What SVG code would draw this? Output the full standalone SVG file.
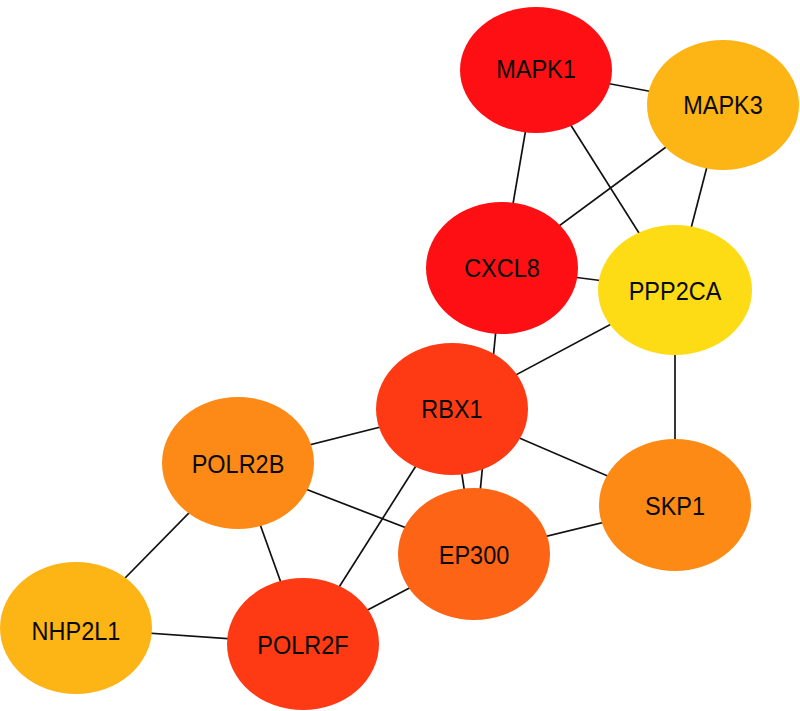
<svg xmlns="http://www.w3.org/2000/svg" width="800" height="711" viewBox="0 0 800 711">
<style>
.e{stroke:#111;stroke-width:1.7;fill:none}
.n text{font-family:"Liberation Sans",Arial,sans-serif;font-size:23.5px;fill:#0a0a0a;text-anchor:middle;dominant-baseline:central}
</style>
<rect width="800" height="711" fill="#fff"/>
<g id="edges">
<line class="e" x1="536" y1="70" x2="723" y2="105"/>
<line class="e" x1="536" y1="70" x2="502" y2="268"/>
<line class="e" x1="536" y1="70" x2="675" y2="290"/>
<line class="e" x1="723" y1="105" x2="502" y2="268"/>
<line class="e" x1="723" y1="105" x2="675" y2="290"/>
<line class="e" x1="502" y1="268" x2="675" y2="290"/>
<line class="e" x1="502" y1="268" x2="474" y2="554"/>
<line class="e" x1="675" y1="290" x2="452" y2="409"/>
<line class="e" x1="675" y1="290" x2="675" y2="505"/>
<line class="e" x1="452" y1="409" x2="238" y2="463"/>
<line class="e" x1="452" y1="409" x2="675" y2="505"/>
<line class="e" x1="452" y1="409" x2="474" y2="554"/>
<line class="e" x1="452" y1="409" x2="303" y2="644"/>
<line class="e" x1="238" y1="463" x2="474" y2="554"/>
<line class="e" x1="238" y1="463" x2="303" y2="644"/>
<line class="e" x1="238" y1="463" x2="76" y2="628"/>
<line class="e" x1="76" y1="628" x2="303" y2="644"/>
<line class="e" x1="474" y1="554" x2="303" y2="644"/>
<line class="e" x1="474" y1="554" x2="675" y2="505"/>
</g>
<g id="MAPK1" class="n"><ellipse cx="536" cy="70" rx="76" ry="63" fill="#FE0F14"/><text transform="translate(536 69) scale(1 1.12)">MAPK1</text></g>
<g id="MAPK3" class="n"><ellipse cx="723" cy="105" rx="76" ry="65" fill="#FDB415"/><text transform="translate(723 105) scale(1 1.12)">MAPK3</text></g>
<g id="CXCL8" class="n"><ellipse cx="502" cy="268" rx="76" ry="66" fill="#FE0F14"/><text transform="translate(502 268) scale(1 1.12)">CXCL8</text></g>
<g id="PPP2CA" class="n"><ellipse cx="675" cy="290" rx="77" ry="65" fill="#FDDC15"/><text transform="translate(675 291) scale(1 1.12)">PPP2CA</text></g>
<g id="RBX1" class="n"><ellipse cx="452" cy="409" rx="76" ry="66" fill="#FE3A14"/><text transform="translate(452 409) scale(1 1.12)">RBX1</text></g>
<g id="POLR2B" class="n"><ellipse cx="238" cy="463" rx="76" ry="66" fill="#FD8A16"/><text transform="translate(238 464) scale(1 1.12)">POLR2B</text></g>
<g id="SKP1" class="n"><ellipse cx="675" cy="505" rx="76" ry="66" fill="#FD8A14"/><text transform="translate(675 506) scale(1 1.12)">SKP1</text></g>
<g id="EP300" class="n"><ellipse cx="474" cy="554" rx="76" ry="66" fill="#FE6416"/><text transform="translate(474 555) scale(1 1.12)">EP300</text></g>
<g id="NHP2L1" class="n"><ellipse cx="76" cy="628" rx="76" ry="66" fill="#FDB415"/><text transform="translate(76 631) scale(1 1.12)">NHP2L1</text></g>
<g id="POLR2F" class="n"><ellipse cx="303" cy="644" rx="76" ry="66" fill="#FE3A14"/><text transform="translate(303 645) scale(1 1.12)">POLR2F</text></g>
</svg>
